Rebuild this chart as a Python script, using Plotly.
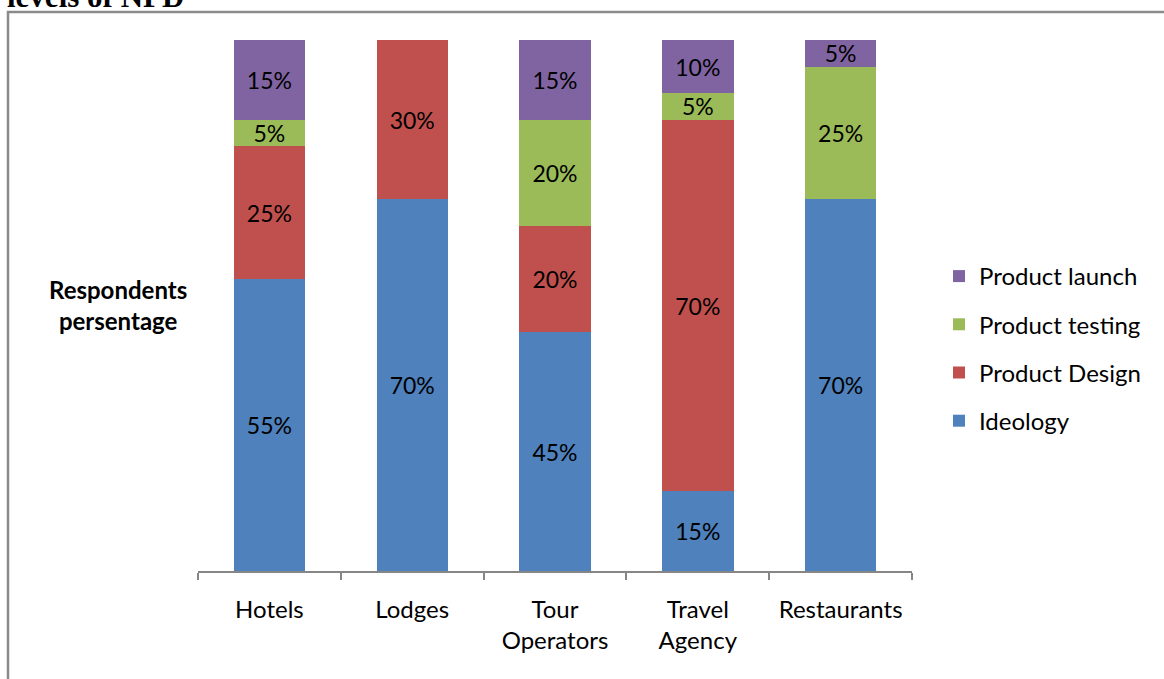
import plotly.graph_objects as go

categories = ["Hotels", "Lodges", "Tour<br>Operators", "Travel<br>Agency", "Restaurants"]
ideology = [55, 70, 45, 15, 70]
product_design = [25, 30, 20, 70, 0]
product_testing = [5, 0, 20, 5, 25]
product_launch = [15, 0, 15, 10, 5]

series = [
    ("Ideology", ideology, "#4F81BD", 4),
    ("Product Design", product_design, "#C0504D", 3),
    ("Product testing", product_testing, "#9BBB59", 2),
    ("Product launch", product_launch, "#8064A2", 1),
]

W, H = 1164, 679
L, R, T, B = 198, 252, 40, 108
pw, ph = W - L - R, H - T - B
FONT = "Lato"

fig = go.Figure()
for name, vals, color, rank in series:
    fig.add_trace(go.Bar(
        x=categories, y=vals, name=name, legendgroup=name, legendrank=rank,
        marker=dict(color=color, line=dict(width=0)),
        text=[f"{v}%" if v > 0 else "" for v in vals],
        textposition="inside", insidetextanchor="middle",
        constraintext="none",
        textfont=dict(family=FONT, size=23, color="#000000"),
        width=0.5,
    ))

def px_x(x):
    return (x - L) / pw

def px_y(y):
    return (H - B - y) / ph

fig.update_layout(
    barmode="stack",
    width=W, height=H,
    margin=dict(l=L, r=R, t=T, b=B),
    paper_bgcolor="white", plot_bgcolor="white",
    font=dict(family=FONT, size=23, color="#000000"),
    showlegend=True,
    legend=dict(
        traceorder="grouped",
        x=px_x(939), y=px_y(254), xanchor="left", yanchor="top",
        font=dict(size=24, family=FONT),
        tracegroupgap=14, itemsizing="constant",
        bgcolor="rgba(0,0,0,0)",
    ),
    xaxis=dict(
        type="category", tickson="boundaries",
        showline=True, linecolor="#868686", linewidth=1.5,
        ticks="outside", ticklen=7, tickcolor="#868686", tickwidth=1.5,
        tickfont=dict(size=24, family=FONT),
        ticklabelstandoff=16,
        showgrid=False,
    ),
    yaxis=dict(range=[0, 100], visible=False, showgrid=False),
    shapes=[dict(
        type="rect", xref="paper", yref="paper",
        x0=px_x(8), y0=-1, x1=2, y1=px_y(12),
        line=dict(color="#8A8A8A", width=2.5), fillcolor="rgba(0,0,0,0)",
        layer="below",
    )],
    annotations=[
        dict(text="<b>Respondents<br>persentage</b>", xref="paper", yref="paper",
             x=px_x(118), y=px_y(305), xanchor="center", yanchor="middle",
             showarrow=False, font=dict(size=24, family=FONT)),
        dict(text="<b>levels of NPD</b>", xref="paper", yref="paper",
             x=px_x(5), y=px_y(-4), xanchor="left", yanchor="middle",
             showarrow=False, font=dict(size=31, family="Liberation Serif")),
    ],
)

fig.write_html("out.html", config={"displayModeBar": False},
               post_script="document.body.style.margin='0';")
